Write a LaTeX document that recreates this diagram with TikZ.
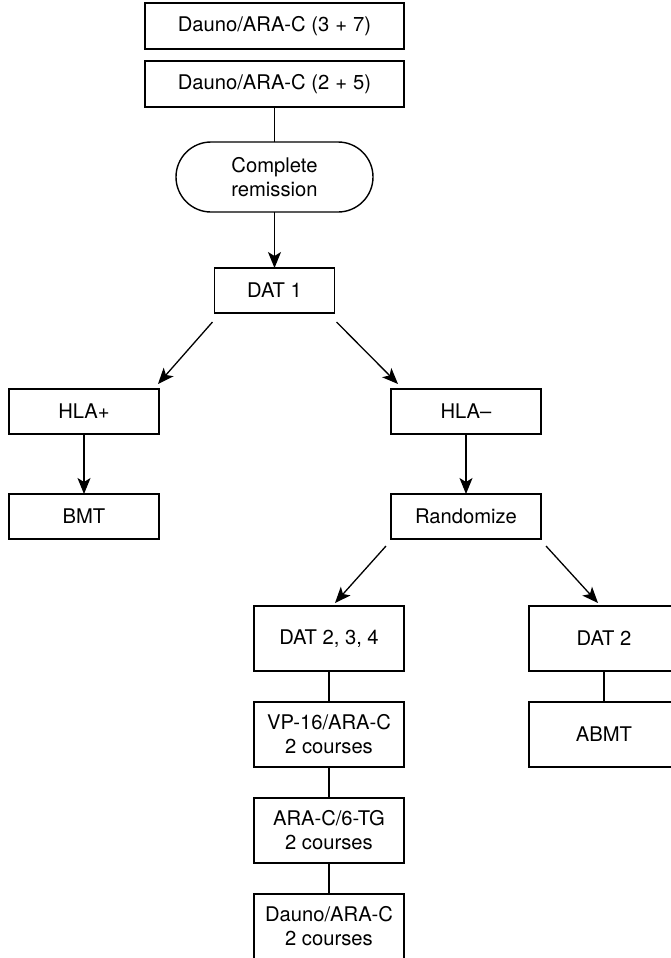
\documentclass[tikz,border=0pt]{standalone}
\usepackage{fontspec}
\setmainfont{TeX Gyre Heros}
\usetikzlibrary{arrows.meta}
\begin{document}
\begin{tikzpicture}[x=1pt,y=-1pt,
  every node/.style={font=\fontsize{20.2}{24}\selectfont, align=center, inner sep=0pt, outer sep=0pt},
  box/.style={draw, line width=1.4pt, minimum width=#1},
  box/.default=150pt,
  boxa/.style={box=150pt, minimum height=45pt},
  boxb/.style={box=150pt, minimum height=65pt},
  conn/.style={line width=1.3pt},
  arr/.style={conn, -{Stealth[length=16pt, width=13pt, inset=4pt]}}]
\useasboundingbox (0,0) rectangle (671,958);
\node[box=259pt, minimum height=46pt] (top1) at (274.5,26) {Dauno/ARA-C (3\hspace{0.3em}+\hspace{0.3em}7)};
\node[box=259pt, minimum height=46pt] (top2) at (274.5,84) {Dauno/ARA-C (2\hspace{0.3em}+\hspace{0.3em}5)};
\node[box=197pt, minimum height=70pt, rounded corners=35pt] (cr) at (274.5,177) {Complete\\remission};
\node[box=120pt, minimum height=45pt] (dat1) at (274.5,290.5) {DAT 1};
\node[boxa] (hlap) at (84,411.5) {HLA+};
\node[boxa] (hlam) at (466,411.5) {HLA–};
\node[boxa] (bmt) at (84,516.5) {BMT};
\node[boxa] (rand) at (466,516.5) {Randomize};
\node[boxb] (d234) at (329,638.5) {DAT 2, 3, 4};
\node[boxb] (vp) at (329,734.5) {VP-16/ARA-C\\2 courses};
\node[boxb] (aratg) at (329,830.5) {ARA-C/6-TG\\2 courses};
\node[boxb] (dauno) at (329,926.5) {Dauno/ARA-C\\2 courses};
\node[boxb] (dat2) at (604,638.5) {DAT 2};
\node[boxb] (abmt) at (604,734.5) {ABMT};
\draw[conn] (top2) -- (cr);
\draw[arr] (cr) -- (dat1);
\draw[arr] ([shift={(-2,9)}]dat1.south west) -- ([shift={(-1,-5)}]hlap.north east);
\draw[arr] ([shift={(2,9)}]dat1.south east) -- ([shift={(7,-5)}]hlam.north west);
\draw[arr] (hlap) -- (bmt);
\draw[arr] (hlam) -- (rand);
\draw[arr] ([shift={(-5,7)}]rand.south west) -- ([shift={(6,-3)}]d234.north);
\draw[arr] ([shift={(5,7)}]rand.south east) -- ([shift={(-6,-3)}]dat2.north);
\draw[conn] (d234) -- (vp);
\draw[conn] (vp) -- (aratg);
\draw[conn] (aratg) -- (dauno);
\draw[conn] (dat2) -- (abmt);
\end{tikzpicture}
\end{document}
